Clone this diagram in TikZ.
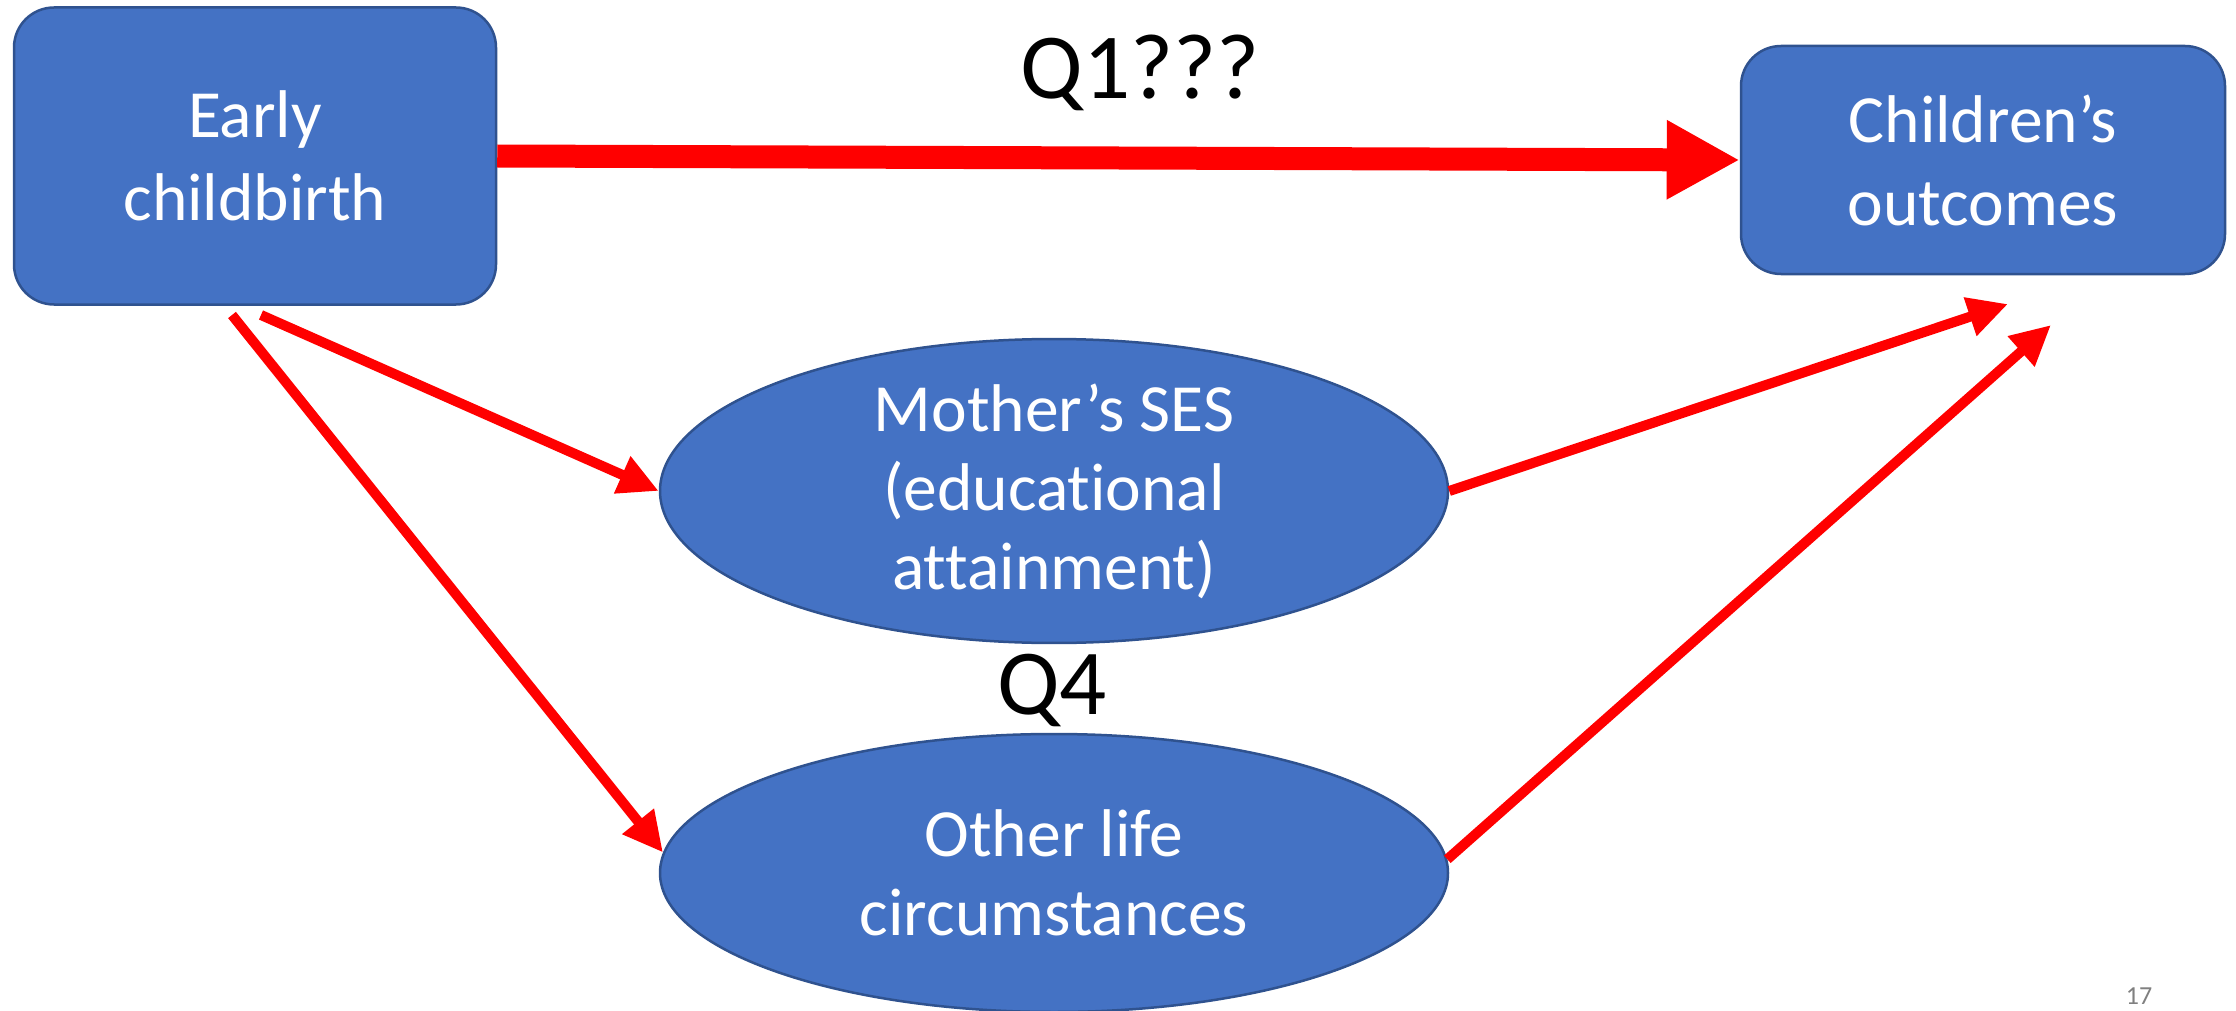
\documentclass[tikz,border=0pt]{standalone}
\usepackage{fontspec}
\setmainfont{Carlito}[Ligatures=NoCommon]
\usetikzlibrary{arrows.meta,shapes.geometric,calc}
\definecolor{boxblue}{HTML}{4472C4}
\definecolor{boxedge}{HTML}{2F528F}
\definecolor{arrred}{HTML}{FF0000}
\tikzset{
  bluebox/.style={draw=boxedge, line width=2.5pt, fill=boxblue, rounded corners=40pt,
    text=white, align=center, inner sep=0pt, font=\fontsize{67.5}{83}\selectfont},
  blueell/.style={draw=boxedge, line width=2.5pt, fill=boxblue, ellipse,
    text=white, align=center, inner sep=0pt, font=\fontsize{67.5}{79}\selectfont},
  bigarrow/.style={draw=arrred, line width=23pt, -{Triangle[length=73pt,width=74pt]}},
  thinarrow/.style={draw=arrred, line width=10pt, -{Triangle[length=40pt,width=38pt]}},
  qlabel/.style={text=black, inner sep=0pt, font=\fontsize{93}{110}\selectfont}
}
\begin{document}
\begin{tikzpicture}[x=1pt,y=-1pt]
\useasboundingbox (0,0) rectangle (2236,1011);
\node[bluebox, minimum width=482pt, minimum height=297pt] (early) at (255,156) {Early\\childbirth};
\node[bluebox, minimum width=484pt, minimum height=228pt] (child) at (1983,160) {Children’s\\outcomes};
\node[blueell, minimum width=788pt, minimum height=280pt] (ses) at (1054,491) {Mother’s SES\\(educational\\attainment)};
\node[blueell, minimum width=788pt, minimum height=278pt] (other) at (1054,873) {Other life\\circumstances};
\node[qlabel] (q1) at (1140,73) {Q1???};
\node[qlabel] (q4) at (1052,690) {Q4};
\node[text=gray, inner sep=0pt, font=\fontsize{26}{30}\selectfont] (pg) at (2139,996) {17};
\coordinate (e1) at (261,315);
\coordinate (e2) at (232,315);
\coordinate (c1) at (2008,304);
\coordinate (c2) at (2051,325);
\draw[bigarrow] (early.east) -- (child.west);
\draw[thinarrow] (e1) -- (ses.west);
\draw[thinarrow] (e2) -- (other.177);
\draw[thinarrow] (ses.east) -- (c1);
\draw[thinarrow] (other.2) -- (c2);
\end{tikzpicture}
\end{document}
